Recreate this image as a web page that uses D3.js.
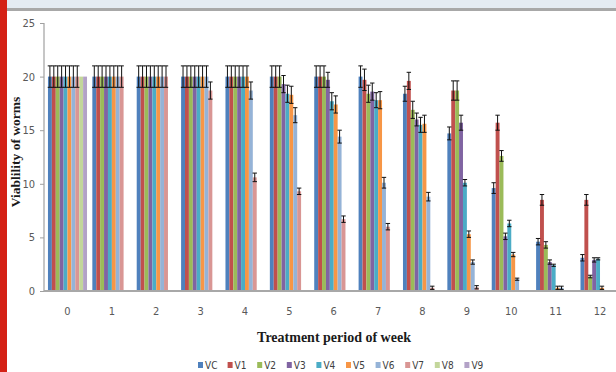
<!DOCTYPE html>
<html>
<head>
<meta charset="utf-8">
<script src="https://cdn.jsdelivr.net/npm/d3@7/dist/d3.min.js"></script>
<style>
  html, body { margin: 0; padding: 0; background: #fff; }
  svg { display: block; }
</style>
</head>
<body>
<svg id="chart" width="616" height="372"></svg>
<script>
// Weeks of treatment (x categories)
const weeks = ["0","1","2","3","4","5","6","7","8","9","10","11","12"];
// Series names
const series = ["VC","V1","V2","V3","V4","V5","V6","V7","V8","V9"];
const colors = ["#4F81BD","#C0504D","#9BBB59","#8064A2","#4BACC6","#F79646","#95B3D7","#D99694","#C3D69B","#B3A2C7"];

// Mean viability per series, one value per week
const VC = [20,20,20,20,20,20,20,20,18.4,14.7,9.6,4.6,3.1];
const V1 = [20,20,20,20,20,20,20,19.7,19.6,18.7,15.7,8.5,8.5];
const V2 = [20,20,20,20,20,20,20,18.4,16.9,18.7,12.6,4.3,1.35];
const V3 = [20,20,20,20,20,19.3,19.7,18.6,16.0,15.7,5.1,2.7,2.9];
const V4 = [20,20,20,20,20,18.4,17.7,17.8,15.5,10.1,6.3,2.4,3.0];
const V5 = [20,20,20,20,20,18.3,17.4,17.8,15.6,5.3,3.4,0.3,0.3];
const V6 = [20,20,20,20,18.7,16.4,14.4,10.1,8.8,2.7,1.1,0.3,0];
const V7 = [20,20,20,18.7,10.6,9.3,6.7,6.0,0.3,0.35,0,0,0];
const V8 = [20,0,0,0,0,0,0,0,0,0,0,0,0];
const V9 = [20,0,0,0,0,0,0,0,0,0,0,0,0];

// Standard errors
const eVC = [1,1,1,1,1,1,1,1,0.7,0.6,0.5,0.3,0.3];
const eV1 = [1,1,1,1,1,1,1,1,0.8,0.9,0.7,0.5,0.5];
const eV2 = [1,1,1,1,1,1,1,0.8,0.8,0.9,0.5,0.3,0.12];
const eV3 = [1,1,1,1,1,0.8,0.7,0.8,0.6,0.7,0.3,0.2,0.2];
const eV4 = [1,1,1,1,1,0.8,0.8,0.7,0.7,0.3,0.3,0.1,0.1];
const eV5 = [1,1,1,1,1,0.8,0.8,0.8,0.8,0.3,0.2,0.15,0.15];
const eV6 = [1,1,1,1,0.8,0.7,0.6,0.5,0.4,0.2,0.1,0.15,0];
const eV7 = [1,1,1,0.8,0.4,0.3,0.3,0.3,0.15,0.15,0,0,0];
const eV8 = [0,0,0,0,0,0,0,0,0,0,0,0,0];
const eV9 = [0,0,0,0,0,0,0,0,0,0,0,0,0];

const yTicks = [0,5,10,15,20,25];

const values = [VC,V1,V2,V3,V4,V5,V6,V7,V8,V9];
const errors = [eVC,eV1,eV2,eV3,eV4,eV5,eV6,eV7,eV8,eV9];

const svg = d3.select("#chart");
const W = 616, H = 372;

// page frame: red edge strip, header band
svg.append("rect").attr("x",0).attr("y",0).attr("width",W).attr("height",H).attr("fill","#fff");
svg.append("rect").attr("x",0).attr("y",0).attr("width",W).attr("height",8).attr("fill","#E4EBF2");
svg.append("rect").attr("x",0).attr("y",8).attr("width",W).attr("height",3).attr("fill","#A8A8A8");
svg.append("rect").attr("x",0).attr("y",0).attr("width",7).attr("height",H).attr("fill","#D42115");

const x0 = d3.scaleBand().domain(weeks).range([45.3, 622.2]).paddingInner(0.12).paddingOuter(0.06);
const x1 = d3.scaleBand().domain(series).range([0, x0.bandwidth()]);
const y = d3.scaleLinear().domain([0,25]).range([291, 23]);

const labelFont = "'Liberation Sans Narrow','Arial Narrow','DejaVu Sans Condensed',sans-serif";

// bars
const rows = [];
weeks.forEach((w, i) => {
  series.forEach((s, j) => {
    rows.push({week: w, s, j, v: values[j][i], e: errors[j][i]});
  });
});

const plot = svg.append("g");
plot.selectAll("rect.bar").data(rows.filter(d => d.v > 0)).join("rect")
  .attr("class","bar")
  .attr("x", d => x0(d.week) + x1(d.s))
  .attr("y", d => y(d.v))
  .attr("width", x1.bandwidth())
  .attr("height", d => y(0) - y(d.v))
  .attr("fill", d => colors[d.j]);

// error bars
const eb = plot.append("g").attr("stroke","#111").attr("stroke-width",1).attr("fill","none");
rows.filter(d => d.v > 0 && d.e > 0).forEach(d => {
  const cx = x0(d.week) + x1(d.s) + x1.bandwidth()/2;
  const hw = 2.2;
  const yt = y(d.v + d.e), yb = y(Math.max(0, d.v - d.e));
  eb.append("line").attr("x1",cx).attr("x2",cx).attr("y1",yt).attr("y2",yb);
  eb.append("line").attr("x1",cx-hw).attr("x2",cx+hw).attr("y1",yt).attr("y2",yt);
  eb.append("line").attr("x1",cx-hw).attr("x2",cx+hw).attr("y1",yb).attr("y2",yb);
});

// y axis
const yAxis = svg.append("g").attr("transform","translate(44,0)")
  .call(d3.axisLeft(y).tickValues(yTicks).tickSize(4).tickPadding(5));
yAxis.select(".domain").attr("stroke","#A0A0A0").attr("stroke-width",1.2).attr("d","M0,23V291");
yAxis.selectAll(".tick line").attr("stroke","#A0A0A0");
yAxis.selectAll(".tick text").attr("fill","#595959").attr("font-size",11).attr("font-family",labelFont);

// x axis
const xAxis = svg.append("g").attr("transform","translate(0,291)")
  .call(d3.axisBottom(x0).tickSize(0).tickPadding(16));
xAxis.select(".domain").attr("stroke","#A8A8A8").attr("stroke-width",2).attr("d","M44,0H616");
xAxis.selectAll(".tick text").attr("fill","#595959").attr("font-size",11).attr("font-family",labelFont);

// axis titles
svg.append("text").attr("x",334).attr("y",342).attr("text-anchor","middle")
  .attr("font-family","'Liberation Serif','Times New Roman',serif").attr("font-weight","bold")
  .attr("font-size",14).attr("fill","#1a1a1a").text("Treatment period of week");
svg.append("text").attr("transform","translate(20,152) rotate(-90)").attr("text-anchor","middle")
  .attr("font-family","'Liberation Serif','Times New Roman',serif").attr("font-weight","bold")
  .attr("font-size",13.5).attr("fill","#1a1a1a").text("Viablility of worms");

// legend
const legend = svg.append("g").selectAll("g").data(series).join("g")
  .attr("transform", (d,i) => `translate(${198 + i*29.6},0)`);
legend.append("rect").attr("x",0).attr("y",362).attr("width",5).attr("height",6)
  .attr("fill", (d,i) => colors[i]);
legend.append("text").attr("x",7).attr("y",368.5).attr("font-size",10)
  .attr("font-family",labelFont).attr("fill","#404040").text(d => d);
</script>
</body>
</html>
